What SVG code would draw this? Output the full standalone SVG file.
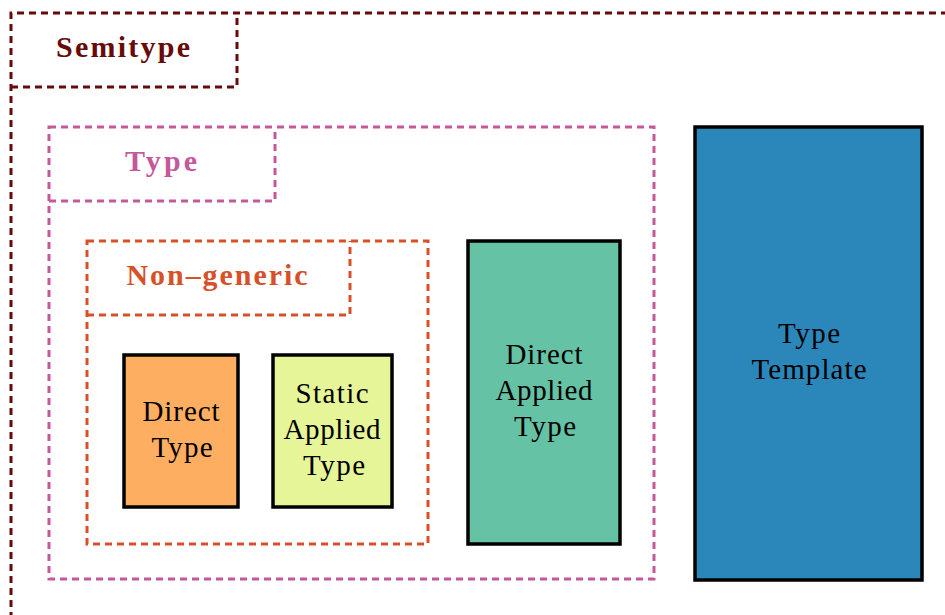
<svg xmlns="http://www.w3.org/2000/svg" width="945" height="615" viewBox="0 0 945 615">
<style>
.grp{fill:none;stroke-width:3;stroke-dasharray:7,5}
.semi{stroke:#670a0a}
.type{stroke:#c5589b}
.ng{stroke:#d7502a}
.lbl{font-family:"Liberation Serif","DejaVu Serif",serif;font-weight:bold;font-size:30px;text-anchor:middle}
.node{stroke:#000;stroke-width:3.5}
.t{font-family:"Liberation Serif","DejaVu Serif",serif;font-size:29px;text-anchor:middle;fill:#000}
</style>
<rect width="945" height="615" fill="#fff"/>
<g id="semitype">
<path class="grp semi" d="M960,13 H11 V620"/>
<path class="grp semi" d="M11,87 H237 V13"/>
<text class="lbl" x="123" y="57" fill="#670a0a" textLength="134" lengthAdjust="spacing">Semitype</text>
</g>
<g id="type">
<rect class="grp type" x="49" y="127" width="605" height="452"/>
<path class="grp type" d="M49,201 H275 V127"/>
<text class="lbl" x="161" y="171" fill="#c5589b" textLength="72" lengthAdjust="spacing">Type</text>
</g>
<g id="nongeneric">
<rect class="grp ng" x="87" y="241" width="341" height="303"/>
<path class="grp ng" d="M87,315 H350 V241"/>
<text class="lbl" x="217" y="285" fill="#d7502a" textLength="181" lengthAdjust="spacing">Non–generic</text>
</g>
<g id="directtype">
<rect class="node" x="124" y="355" width="114" height="152" fill="#fdae61"/>
<text class="t" x="181" y="421" textLength="77" lengthAdjust="spacing">Direct</text>
<text class="t" x="182" y="457" textLength="61" lengthAdjust="spacing">Type</text>
</g>
<g id="staticappliedtype">
<rect class="node" x="273" y="355" width="119" height="152" fill="#e6f598"/>
<text class="t" x="332" y="403" textLength="73" lengthAdjust="spacing">Static</text>
<text class="t" x="332" y="439" textLength="97" lengthAdjust="spacing">Applied</text>
<text class="t" x="334" y="475" textLength="62" lengthAdjust="spacing">Type</text>
</g>
<g id="directappliedtype">
<rect class="node" x="468" y="241" width="152" height="303" fill="#66c2a5"/>
<text class="t" x="544" y="364" textLength="77" lengthAdjust="spacing">Direct</text>
<text class="t" x="544" y="400" textLength="97" lengthAdjust="spacing">Applied</text>
<text class="t" x="545" y="436" textLength="62" lengthAdjust="spacing">Type</text>
</g>
<g id="typetemplate">
<rect class="node" x="695" y="127" width="227" height="453" fill="#2b86ba"/>
<text class="t" x="809" y="343" textLength="62" lengthAdjust="spacing">Type</text>
<text class="t" x="809" y="379" textLength="115" lengthAdjust="spacing">Template</text>
</g>
<g id="connectors"></g>
</svg>
